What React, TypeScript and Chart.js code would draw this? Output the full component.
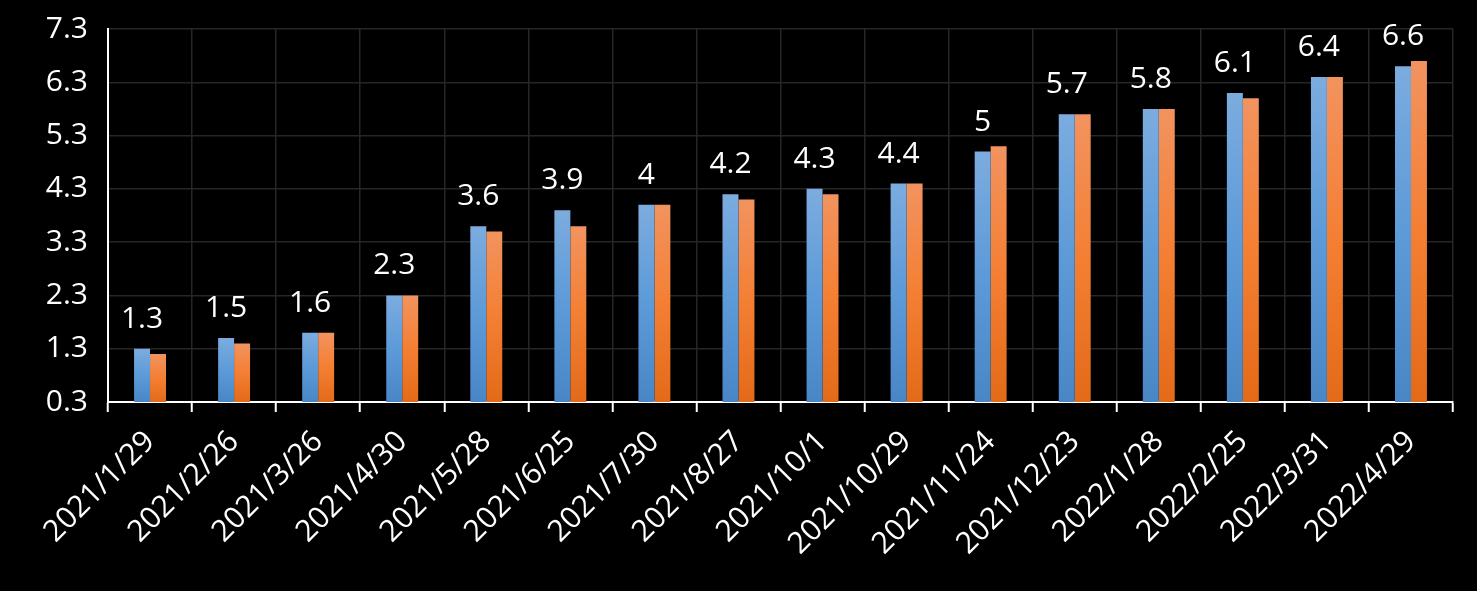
import React, { useEffect, useRef } from "react";
import { Chart, registerables } from "chart.js";

Chart.register(...registerables);

const categories = [
  "2021/1/29", "2021/2/26", "2021/3/26", "2021/4/30", "2021/5/28", "2021/6/25",
  "2021/7/30", "2021/8/27", "2021/10/1", "2021/10/29", "2021/11/24", "2021/12/23",
  "2022/1/28", "2022/2/25", "2022/3/31", "2022/4/29",
];
const blueValues = [1.3, 1.5, 1.6, 2.3, 3.6, 3.9, 4.0, 4.2, 4.3, 4.4, 5.0, 5.7, 5.8, 6.1, 6.4, 6.6];
const orangeValues = [1.2, 1.4, 1.6, 2.3, 3.5, 3.6, 4.0, 4.1, 4.2, 4.4, 5.1, 5.7, 5.8, 6.0, 6.4, 6.7];
const blueLabels = ["1.3", "1.5", "1.6", "2.3", "3.6", "3.9", "4", "4.2", "4.3", "4.4", "5", "5.7", "5.8", "6.1", "6.4", "6.6"];

const FONT = "'Open Sans', 'Noto Sans', sans-serif";

function gradient(top: string, bottom: string, mid: string) {
  return (ctx: any) => {
    const chart = ctx.chart;
    const area = chart.chartArea;
    if (!area || ctx.raw == null) return mid;
    const y = chart.scales.y.getPixelForValue(ctx.raw);
    const g = chart.ctx.createLinearGradient(0, y, 0, area.bottom);
    g.addColorStop(0, top);
    g.addColorStop(0.5, mid);
    g.addColorStop(1, bottom);
    return g;
  };
}

const labelPlugin = {
  id: "blueLabels",
  afterDatasetsDraw(chart: any) {
    const meta = chart.getDatasetMeta(0);
    const c = chart.ctx;
    c.save();
    c.fillStyle = "#ffffff";
    c.font = `30px ${FONT}`;
    c.textAlign = "center";
    c.textBaseline = "alphabetic";
    meta.data.forEach((bar: any, i: number) => {
      c.fillText(blueLabels[i], bar.x, bar.y - 21);
    });
    c.restore();
  },
};

export default function App() {
  const ref = useRef<HTMLCanvasElement | null>(null);
  useEffect(() => {
    document.body.style.margin = "0";
    document.body.style.background = "#000";
    const chart = new Chart(ref.current!, {
      type: "bar",
      data: {
        labels: categories,
        datasets: [
          {
            data: blueValues,
            backgroundColor: gradient("#7cacdf", "#4886c6", "#5c9ad8"),
            categoryPercentage: 0.38,
            barPercentage: 1,
          },
          {
            data: orangeValues,
            backgroundColor: gradient("#f2935f", "#e36a18", "#f47f33"),
            categoryPercentage: 0.38,
            barPercentage: 1,
          },
        ],
      },
      options: {
        animation: false,
        responsive: false,
        layout: { padding: { top: 29, right: 24, left: 0, bottom: 0 } },
        plugins: { legend: { display: false }, tooltip: { enabled: false } },
        scales: {
          x: {
            offset: true,
            grid: {
              offset: true,
              color: "#262626",
              lineWidth: 1.5,
              tickColor: "#ffffff",
              tickLength: 10,
              tickWidth: 2,
              drawTicks: true,
            },
            border: { color: "#ffffff", width: 2 },
            ticks: {
              color: "#ffffff",
              font: { family: FONT, size: 30 },
              minRotation: 45,
              maxRotation: 45,
              autoSkip: false,
              padding: 12,
            },
            afterFit: (scale: any) => {
              scale.height = 189;
              scale.paddingLeft = 0;
              scale.paddingRight = 0;
            },
          },
          y: {
            min: 0.3,
            max: 7.3,
            grid: { color: "#262626", lineWidth: 1.5, drawTicks: false },
            border: { color: "#ffffff", width: 2 },
            ticks: {
              stepSize: 1,
              color: "#ffffff",
              font: { family: FONT, size: 30 },
              padding: 20,
              callback: (v: any) => Number(v).toFixed(1),
            },
            afterFit: (scale: any) => {
              scale.width = 108;
              scale.paddingTop = 0;
              scale.paddingBottom = 0;
            },
          },
        },
      },
      plugins: [labelPlugin],
    });
    return () => chart.destroy();
  }, []);
  return (
    <div style={{ width: 1477, height: 591, background: "#000" }}>
      <canvas ref={ref} width={1477} height={591} style={{ display: "block" }} />
    </div>
  );
}
